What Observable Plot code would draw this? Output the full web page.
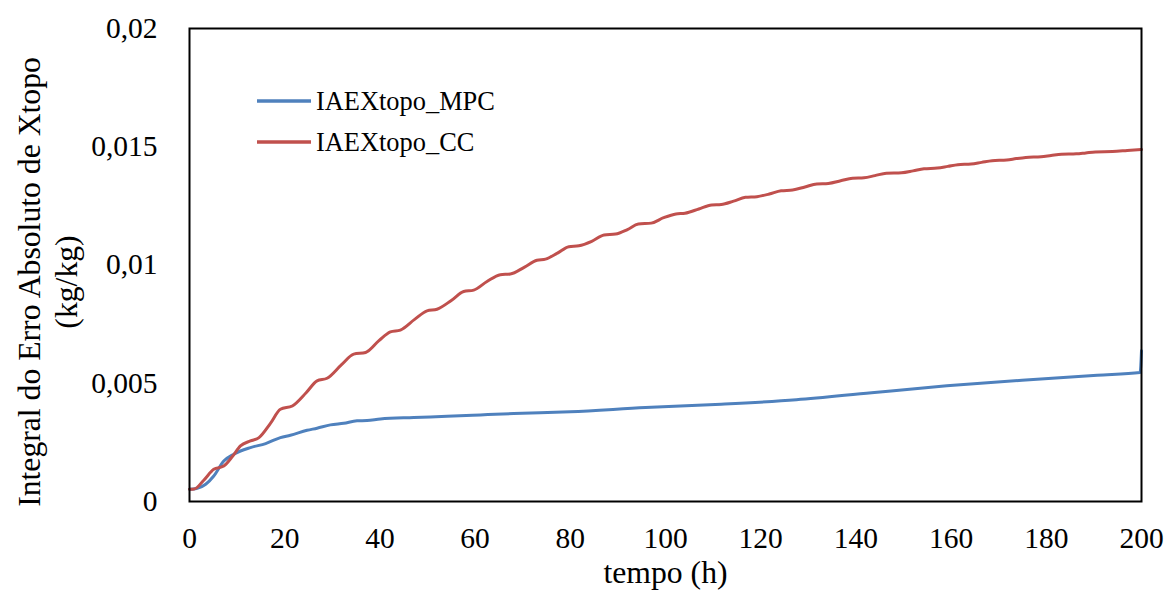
<!DOCTYPE html>
<html>
<head>
<meta charset="utf-8">
<script src="https://cdn.jsdelivr.net/npm/d3@7"></script>
<script src="https://cdn.jsdelivr.net/npm/@observablehq/plot@0.6"></script>
<style>
  html, body { margin: 0; padding: 0; background: #fff; }
  #wrap { position: relative; width: 1168px; height: 601px; font-family: "Liberation Serif", "Times New Roman", serif; }
  .lg { position: absolute; left: 257px; height: 30px; display: flex; align-items: center; font-size: 26.4px; color: #000; white-space: nowrap; }
  .lg svg { margin-right: 5px; }
</style>
</head>
<body>
<div id="wrap"></div>
<script>
// ---- data ----
const seriesNames = ["IAEXtopo_MPC", "IAEXtopo_CC"];
const seriesColors = ["#4F81BD", "#C0504D"];

const tMPC = [0, 1.5, 3.4, 5.1, 7.2, 9.3, 12.8, 16, 19.1, 21.2, 24.7, 26.8, 29.6, 32.4, 35.2, 37.3, 40.1, 47.1, 54.1, 61.1, 68.1, 80, 95.8, 111.7, 127.5, 143.3, 159.1, 174.9, 190.7, 199.7, 200];
const vMPC = [0.00052, 0.00055, 0.00073, 0.00108, 0.00171, 0.0020, 0.00228, 0.00245, 0.0027, 0.0028, 0.00301, 0.0031, 0.00324, 0.00331, 0.00341, 0.00342, 0.00349, 0.00355, 0.0036, 0.00366, 0.00372, 0.0038, 0.00397, 0.00411, 0.0043, 0.0046, 0.00489, 0.00513, 0.00534, 0.00545, 0.00637];

const tCC = [0, 1, 3, 5.1, 7.2, 9, 10.7, 12.8, 14.6, 17, 19.1, 21.6, 24.5, 26.8, 28.9, 32, 34.5, 37, 39.8, 42.2, 44.3, 47.3, 49.9, 52, 55, 57.6, 59.7, 62.5, 65.3, 67.4, 70.3, 73, 74.8, 77.3, 79.7, 81.8, 84.5, 87.1, 89.5, 92, 94.3, 97, 99.6, 102.2, 104.1, 107, 109.7, 111.7, 114.3, 116.8, 119.2, 121.8, 124.3, 126.7, 129.3, 131.8, 134.2, 136.8, 139.3, 141.7, 144, 146.4, 149.6, 152, 154.3, 157.1, 159.3, 161.4, 164.2, 166.4, 168.6, 171.7, 173.7, 175.7, 178.9, 181, 183.2, 186.3, 188.3, 190.3, 193.9, 197, 200];
const vCC = [0.00052, 0.00053, 0.0009, 0.00136, 0.0015, 0.0019, 0.00235, 0.00256, 0.0027, 0.0033, 0.0039, 0.00404, 0.0046, 0.0051, 0.00521, 0.0058, 0.00623, 0.0063, 0.0068, 0.00717, 0.00725, 0.0077, 0.00806, 0.00813, 0.0085, 0.00888, 0.00894, 0.0093, 0.00959, 0.00962, 0.0099, 0.0102, 0.01025, 0.0105, 0.01077, 0.01081, 0.0110, 0.01127, 0.01131, 0.0115, 0.01173, 0.01177, 0.0120, 0.01216, 0.01219, 0.01237, 0.01254, 0.01256, 0.0127, 0.01286, 0.01289, 0.0130, 0.01314, 0.01317, 0.0133, 0.01343, 0.01345, 0.01356, 0.01367, 0.01369, 0.01378, 0.01388, 0.0139, 0.01398, 0.01407, 0.0141, 0.01417, 0.01424, 0.01427, 0.01434, 0.01441, 0.01444, 0.0145, 0.01455, 0.01458, 0.01463, 0.01468, 0.0147, 0.01474, 0.01478, 0.0148, 0.01484, 0.01488];

const xTicks = [0, 20, 40, 60, 80, 100, 120, 140, 160, 180, 200];
const yTicks = [0, 0.005, 0.01, 0.015, 0.02];
const yTickLabels = ["0", "0,005", "0,01", "0,015", "0,02"];
const xTitle = "tempo (h)";
const yTitle = "Integral do Erro Absoluto de Xtopo\n(kg/kg)";

// ---- build table ----
const rows = [
  ...tMPC.map((t, i) => ({t, v: vMPC[i], s: seriesNames[0]})),
  ...tCC.map((t, i) => ({t, v: vCC[i], s: seriesNames[1]}))
];

const chart = Plot.plot({
  width: 1168,
  height: 601,
  marginLeft: 189,
  marginRight: 27,
  marginTop: 28,
  marginBottom: 100,
  style: { fontFamily: '"Liberation Serif", "Times New Roman", serif', background: "#fff", overflow: "visible" },
  x: { domain: [0, 200], ticks: xTicks, tickSize: 0, tickPadding: 26, label: null, tickFormat: d => String(d) },
  y: { domain: [0, 0.02], ticks: yTicks, tickSize: 0, tickPadding: 32, label: null, tickFormat: d => yTickLabels[yTicks.indexOf(d)] },
  color: { domain: seriesNames, range: seriesColors },
  marks: [
    Plot.axisX({ ticks: xTicks, tickSize: 0, tickPadding: 26, fontSize: 29.5, label: null, tickFormat: d => String(d), fill: "#000" }),
    Plot.axisY({ ticks: yTicks, tickSize: 0, tickPadding: 32, fontSize: 29.5, label: null, tickFormat: d => yTickLabels[yTicks.indexOf(d)], fill: "#000" }),
    Plot.line(rows, { x: "t", y: "v", z: "s", stroke: "s", strokeWidth: 3, curve: "monotone-x" }),
    Plot.frame({ stroke: "#000", strokeWidth: 2 }),
    Plot.text([xTitle], { frameAnchor: "bottom", dy: 81, fontSize: 31.7, fill: "#000" }),
    Plot.text([yTitle], { frameAnchor: "left", rotate: -90, dx: -143, dy: 17, fontSize: 31.7, lineHeight: 1.19, textAnchor: "middle", fill: "#000" })
  ]
});

const wrap = document.getElementById("wrap");
wrap.appendChild(chart);

// legend overlay
const legendTops = [86, 127];
seriesNames.forEach((name, i) => {
  const d = document.createElement("div");
  d.className = "lg";
  d.style.top = legendTops[i] + "px";
  d.innerHTML = `<svg width="54" height="6"><line x1="0" y1="3" x2="54" y2="3" stroke="${seriesColors[i]}" stroke-width="3.5"/></svg><span>${name}</span>`;
  wrap.appendChild(d);
});
</script>
</body>
</html>
